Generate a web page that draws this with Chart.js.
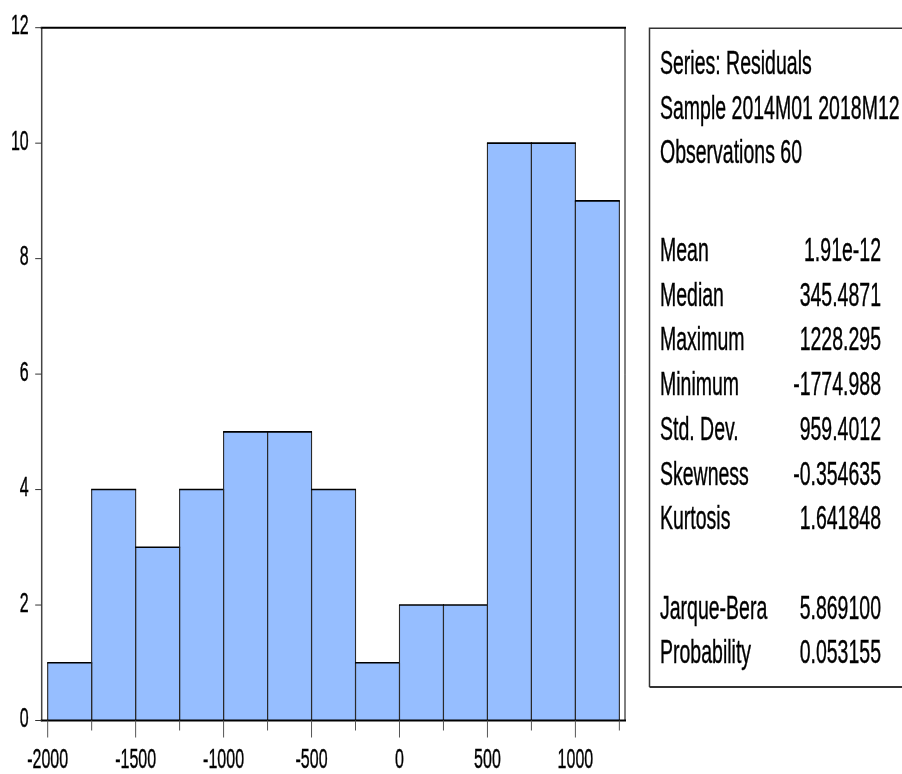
<!DOCTYPE html>
<html>
<head>
<meta charset="utf-8">
<script src="https://cdn.jsdelivr.net/npm/chart.js@4.4.1/dist/chart.umd.min.js"></script>
<style>
  html, body { margin: 0; padding: 0; background: #ffffff; }
  #wrap { width: 902px; height: 774px; }
</style>
</head>
<body>
<div id="wrap"><canvas id="hist" width="902" height="774"></canvas></div>
<script>
// Residual histogram: bin centres (width 250) and counts
const binCenters = [-1875, -1625, -1375, -1125, -875, -625, -375, -125, 125, 375, 625, 875, 1125];
const counts     = [1, 4, 3, 4, 5, 5, 4, 1, 2, 2, 10, 10, 9];

// Axis ticks
const yTicks = [0, 2, 4, 6, 8, 10, 12];
const xMajorTicks = [-2000, -1500, -1000, -500, 0, 500, 1000];
const xMinorTicks = [-1750, -1250, -750, -250, 250, 750, 1250];

// Descriptive statistics panel
const headerLines = ['Series: Residuals', 'Sample 2014M01 2018M12', 'Observations 60'];
const statLabels = ['Mean', 'Median', 'Maximum', 'Minimum', 'Std. Dev.', 'Skewness', 'Kurtosis'];
const statValues = ['1.91e-12', '345.4871', '1228.295', '-1774.988', '959.4012', '-0.354635', '1.641848'];
const testLabels = ['Jarque-Bera', 'Probability'];
const testValues = ['5.869100', '0.053155'];

const FONT = '"Liberation Sans", Arial, sans-serif';
const STRETCH = 1.68; // tall, condensed lettering

function tallText(ctx, text, x, y, size, align) {
  ctx.save();
  ctx.font = size + 'px ' + FONT;
  ctx.textAlign = align;
  ctx.textBaseline = 'alphabetic';
  ctx.fillStyle = '#000000';
  ctx.strokeStyle = '#000000';
  ctx.lineWidth = 0.25;
  ctx.translate(x, y);
  ctx.scale(1, STRETCH);
  ctx.fillText(text, 0, 0);
  ctx.strokeText(text, 0, 0);
  ctx.restore();
}

const framePlugin = {
  id: 'frameAndAxes',
  afterDatasetsDraw(chart) {
    const ctx = chart.ctx;
    const a = chart.chartArea;
    const xs = chart.scales.x;
    const ys = chart.scales.y;

    // bar outlines, taken from the drawn bar elements
    ctx.save();
    chart.getDatasetMeta(0).data.forEach(bar => {
      const p = bar.getProps(['x', 'y', 'base', 'width'], true);
      const l = p.x - p.width / 2, r = p.x + p.width / 2;
      ctx.strokeStyle = '#2a2a2a';
      ctx.lineWidth = 1.1;
      ctx.beginPath();
      ctx.moveTo(l, p.base); ctx.lineTo(l, p.y);
      ctx.moveTo(r, p.base); ctx.lineTo(r, p.y);
      ctx.stroke();
      ctx.strokeStyle = '#000000';
      ctx.lineWidth = 1.6;
      ctx.beginPath(); ctx.moveTo(l - 0.5, p.y); ctx.lineTo(r + 0.5, p.y); ctx.stroke();
    });
    ctx.restore();

    // plot frame
    ctx.save();
    ctx.lineCap = 'square';
    ctx.strokeStyle = '#444444';
    ctx.lineWidth = 1.5;
    ctx.beginPath(); ctx.moveTo(a.left, a.top); ctx.lineTo(a.left, a.bottom); ctx.stroke();
    ctx.strokeStyle = '#000000';
    ctx.lineWidth = 1;
    ctx.beginPath(); ctx.moveTo(a.right, a.top); ctx.lineTo(a.right, a.bottom); ctx.stroke();
    ctx.lineWidth = 2;
    ctx.beginPath(); ctx.moveTo(a.left, a.top); ctx.lineTo(a.right, a.top); ctx.stroke();
    ctx.beginPath(); ctx.moveTo(a.left, a.bottom); ctx.lineTo(a.right, a.bottom); ctx.stroke();

    // y ticks and labels
    ctx.lineCap = 'butt';
    ctx.strokeStyle = '#333333';
    ctx.lineWidth = 1;
    yTicks.forEach(v => {
      const py = ys.getPixelForValue(v);
      ctx.beginPath(); ctx.moveTo(a.left - 6.5, py); ctx.lineTo(a.left, py); ctx.stroke();
      tallText(ctx, String(v), a.left - 13, py + 6.5, 16, 'right');
    });

    // x ticks and labels
    ctx.strokeStyle = '#555555';
    xMinorTicks.forEach(v => {
      const px = xs.getPixelForValue(v);
      ctx.beginPath(); ctx.moveTo(px, a.bottom); ctx.lineTo(px, a.bottom + 10); ctx.stroke();
    });
    xMajorTicks.forEach(v => {
      const px = xs.getPixelForValue(v);
      ctx.beginPath(); ctx.moveTo(px, a.bottom); ctx.lineTo(px, a.bottom + 17); ctx.stroke();
      tallText(ctx, String(v), px, a.bottom + 47.5, 16, 'center');
    });
    ctx.restore();

    // statistics panel
    ctx.save();
    ctx.strokeStyle = '#333333';
    ctx.lineWidth = 1.5;
    ctx.beginPath();
    ctx.moveTo(910, 28.3); ctx.lineTo(649.5, 28.3); ctx.lineTo(649.5, 687);
    ctx.stroke();
    ctx.lineWidth = 2;
    ctx.beginPath(); ctx.moveTo(649.5, 687); ctx.lineTo(910, 687); ctx.stroke();
    ctx.restore();

    const lx = 660, rx = 881;
    const headerY = [74, 118.5, 163];
    headerLines.forEach((t, i) => tallText(ctx, t, lx, headerY[i], 19.5, 'left'));
    const statTop = 261, step = 44.7;
    statLabels.forEach((t, i) => {
      tallText(ctx, t, lx, statTop + i * step, 19.5, 'left');
      tallText(ctx, statValues[i], rx, statTop + i * step, 19.5, 'right');
    });
    const testTop = 618.6;
    testLabels.forEach((t, i) => {
      tallText(ctx, t, lx, testTop + i * step, 19.5, 'left');
      tallText(ctx, testValues[i], rx, testTop + i * step, 19.5, 'right');
    });
  }
};

new Chart(document.getElementById('hist'), {
  type: 'bar',
  data: {
    datasets: [{
      data: binCenters.map((c, i) => ({ x: c, y: counts[i] })),
      backgroundColor: 'rgb(150, 190, 255)',
      borderWidth: 0,
      barPercentage: 1.0,
      categoryPercentage: 1.0,
      inflateAmount: 0
    }]
  },
  options: {
    responsive: false,
    animation: false,
    events: [],
    layout: { padding: { left: 41.7, top: 27.7, right: 277, bottom: 53.5 } },
    plugins: { legend: { display: false }, tooltip: { enabled: false } },
    scales: {
      x: { type: 'linear', min: -2034, max: 1282, display: false, offset: false },
      y: { type: 'linear', min: 0, max: 12, display: false }
    }
  },
  plugins: [framePlugin]
});
</script>
</body>
</html>
